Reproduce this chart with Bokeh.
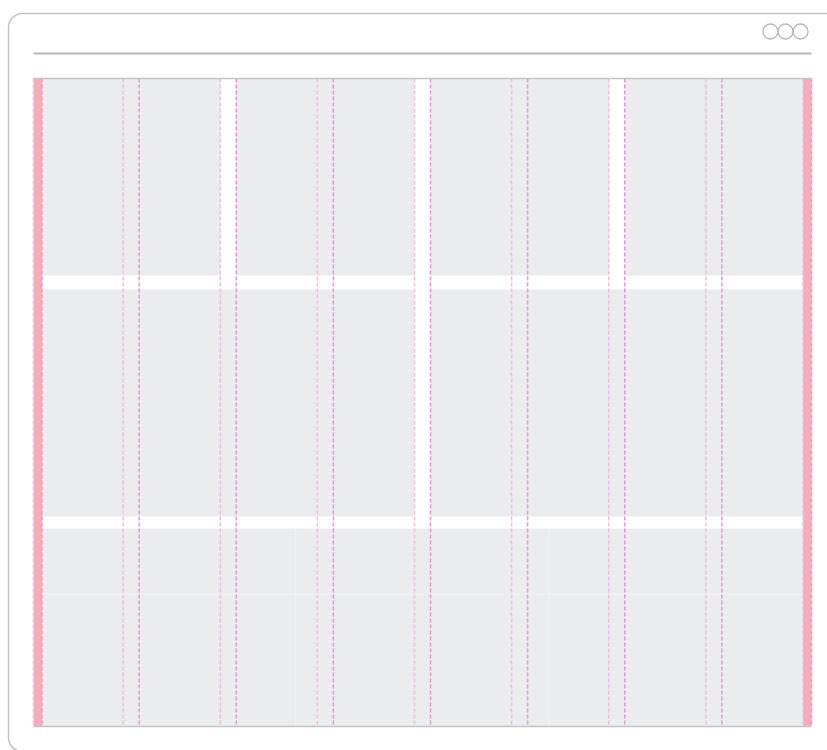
from bokeh.plotting import figure
from bokeh.models import Range1d, BoxAnnotation
from bokeh.embed import file_html
from bokeh.resources import INLINE

# ---- data: layout grid structure ----
columns = 8
row_spans = [[2, 2, 2, 2], [4, 4], [8]]
row_heights = [197, 227, 198]
row_gaps = [14, 12]
nested_cols = 3
nested_rows = 3
nested_row_lines = [1]
window_dots = [1, 2, 3]

# ---- geometry / styles ----
W, H = 827, 750
GRID_L, GRID_R, GRID_T = 33, 811, 78
MARGIN = 8.5
GUTTER = 16
GRAY = "#ebecee"
PINK = "#f7adb7"
DASH_A = "#efbfdf"
DASH_B = "#e49ad0"
FRAME = "#c4c4c4"

p = figure(width=W, height=H, output_backend="svg", toolbar_location=None,
           x_range=Range1d(0, W), y_range=Range1d(H, 0),
           min_border=0, outline_line_color=None)
p.axis.visible = False
p.xgrid.visible = False
p.ygrid.visible = False
p.background_fill_color = "white"
p.border_fill_color = "white"

# browser frame
frame = BoxAnnotation(left=8, right=860, top=13, bottom=751, fill_color=None,
                      fill_alpha=0, line_color=FRAME, line_alpha=1.0,
                      line_width=1.5, border_radius=14)
p.add_layout(frame)
p.segment(x0=[GRID_L], x1=[GRID_R], y0=[53], y1=[53], line_color="#b8b8b8", line_width=2)
dot_x = [770 + (d - 1) * 15 for d in window_dots]
p.scatter(x=dot_x, y=[31] * len(dot_x), size=15, fill_color=None,
          line_color="#b8b8b8", line_width=1.3)

# column geometry
CL = GRID_L + MARGIN
CR = GRID_R - MARGIN
colw = (CR - CL - (columns - 1) * GUTTER) / columns
def col_left(i):
    return CL + i * (colw + GUTTER)
def col_right(i):
    return col_left(i) + colw

# rows
tops = []
y = GRID_T
for k, h in enumerate(row_heights):
    tops.append(y)
    y += h
    if k < len(row_gaps):
        y += row_gaps[k]
GRID_B = y

bl, br, bt, bb = [], [], [], []
for spans, top, h in zip(row_spans, tops, row_heights):
    c = 0
    for s in spans:
        bl.append(col_left(c))
        br.append(col_right(c + s - 1))
        bt.append(top)
        bb.append(top + h)
        c += s
p.quad(left=bl, right=br, top=bt, bottom=bb, fill_color=GRAY, line_color=None)

# nested faint subgrid in last row
lt, lh = tops[-1], row_heights[-1]
nx = [CL + k * (CR - CL) / nested_cols for k in range(1, nested_cols)]
ny = [lt + k * lh / nested_rows for k in nested_row_lines]
p.segment(x0=nx, x1=nx, y0=[lt] * len(nx), y1=[lt + lh] * len(nx),
          line_color="#f0f1f3", line_width=1)
p.segment(x0=[CL] * len(ny), x1=[CR] * len(ny), y0=ny, y1=ny,
          line_color="#f0f1f3", line_width=1)

# margin strips
p.quad(left=[GRID_L, CR], right=[CL, GRID_R], top=[GRID_T, GRID_T],
       bottom=[GRID_B, GRID_B], fill_color=PINK, line_color=None)

# dashed column guides
xa = [GRID_L] + [col_right(i) for i in range(columns - 1)] + [CR]
xb = [CL] + [col_left(i) for i in range(1, columns)] + [GRID_R]
p.segment(x0=xa, x1=xa, y0=[GRID_T] * len(xa), y1=[GRID_B] * len(xa),
          line_color=DASH_A, line_width=1.5, line_dash="4 2")
p.segment(x0=xb, x1=xb, y0=[GRID_T] * len(xb), y1=[GRID_B] * len(xb),
          line_color=DASH_B, line_width=1.5, line_dash="4 2")

# top and bottom borders of grid
p.segment(x0=[GRID_L, GRID_L], x1=[GRID_R, GRID_R], y0=[GRID_T, GRID_B],
          y1=[GRID_T, GRID_B], line_color="#c4c4c4", line_width=1.5)

open("out.html", "w").write(file_html(p, INLINE))
